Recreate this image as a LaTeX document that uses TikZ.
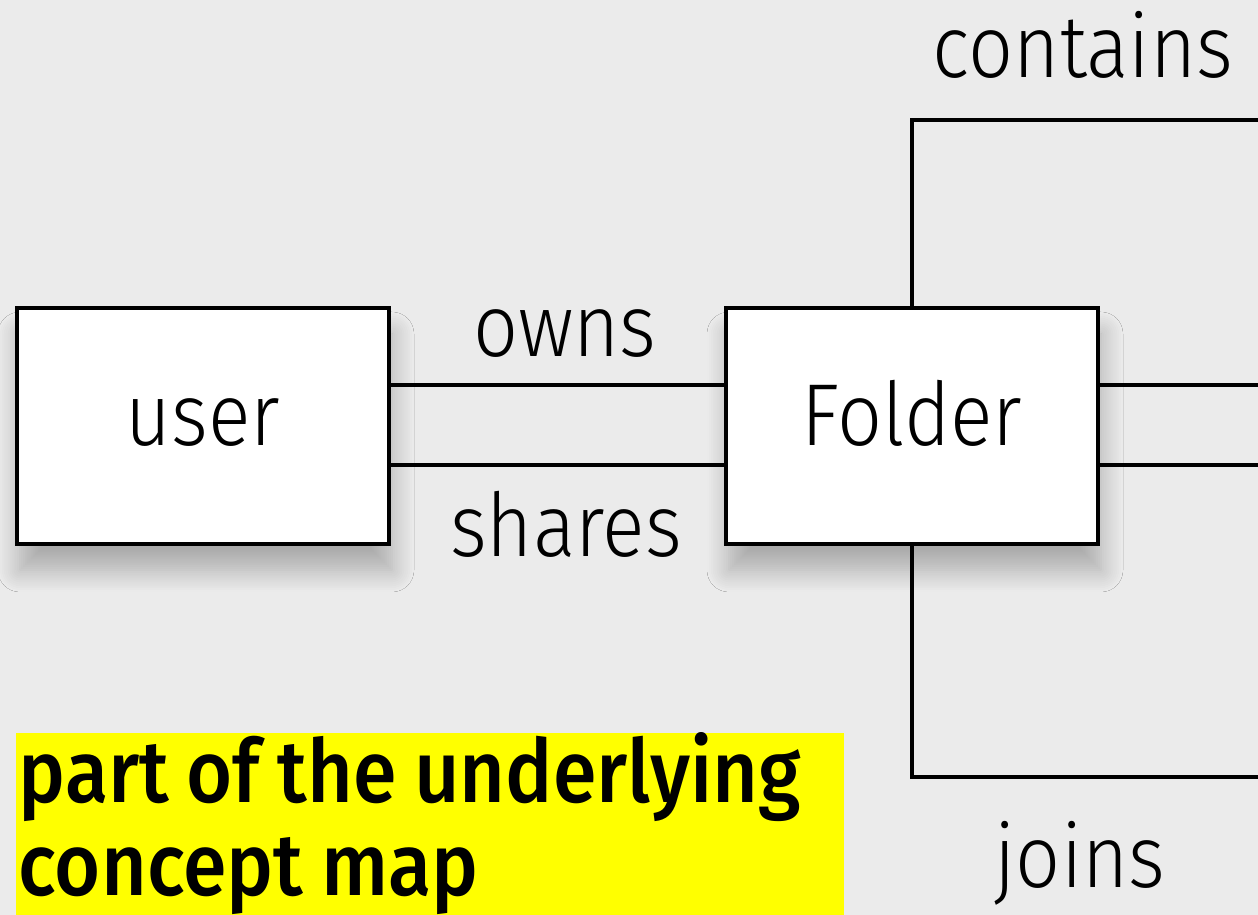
\documentclass[tikz,border=0pt]{standalone}
\usepackage{fontspec}
\usepackage{tikz}
\usetikzlibrary{shadows.blur}
\newfontfamily\thinfont{Fira Sans Light}[FakeStretch=0.9]
\newfontfamily\notefont{Fira Sans Medium}[FakeStretch=0.9]
\definecolor{bg}{HTML}{EBEBEB}
\definecolor{marker}{HTML}{FFFF00}

\begin{document}
\begin{tikzpicture}[
    concept/.style={draw=black, line width=1.1pt, fill=white, minimum width=3.72cm, minimum height=2.36cm,
        inner sep=0pt, text height=4mm, text depth=0pt, font=\thinfont\fontsize{25}{30}\selectfont,
        blur shadow={shadow xshift=0.3mm, shadow yshift=-2.6mm, shadow blur radius=2.2mm,
            shadow blur steps=12, shadow opacity=28}},
    rel/.style={font=\thinfont\fontsize{25}{30}\selectfont, anchor=base, inner sep=0pt},
    link/.style={line width=1.1pt, line join=miter}
]
    \fill[bg] (0,0) rectangle (12.58,9.15);
    \useasboundingbox (0,0) rectangle (12.58,9.15);

    \node[concept] (user) at (2.03,4.89) {user};
    \node[concept] (folder) at (9.12,4.89) {Folder};

    % free ends leaving the picture on the right
    \coordinate (containsEnd) at (12.7,7.95);
    \coordinate (joinsEnd) at (12.7,1.38);
    \coordinate (ownsEnd) at (12.7,5.30);
    \coordinate (sharesEnd) at (12.7,4.50);

    \draw[link] ([yshift=4.1mm]user.east) -- ([yshift=4.1mm]folder.west);
    \draw[link] ([yshift=-3.9mm]user.east) -- ([yshift=-3.9mm]folder.west);
    \draw[link] ([yshift=4.1mm]folder.east) -- (ownsEnd);
    \draw[link] ([yshift=-3.9mm]folder.east) -- (sharesEnd);
    \draw[link] (folder.north) |- (containsEnd);
    \draw[link] (folder.south) |- (joinsEnd);

    \node[rel] (owns) at (5.65,5.58) {owns};
    \node[rel] (shares) at (5.66,3.58) {shares};
    \node[rel] (contains) at (10.83,8.37) {contains};
    \node[rel] (joins) at (10.80,0.27) {joins};

    \node[fill=marker, anchor=north west, text width=8.22cm, inner xsep=0.3mm, inner ysep=0pt,
        align=left, font=\notefont\fontsize{25}{26.4}\selectfont] (note) at (0.15,1.83)
        {\spaceskip=0.2em plus 0.05em\strut part of the underlying\\ concept map};
\end{tikzpicture}
\end{document}
